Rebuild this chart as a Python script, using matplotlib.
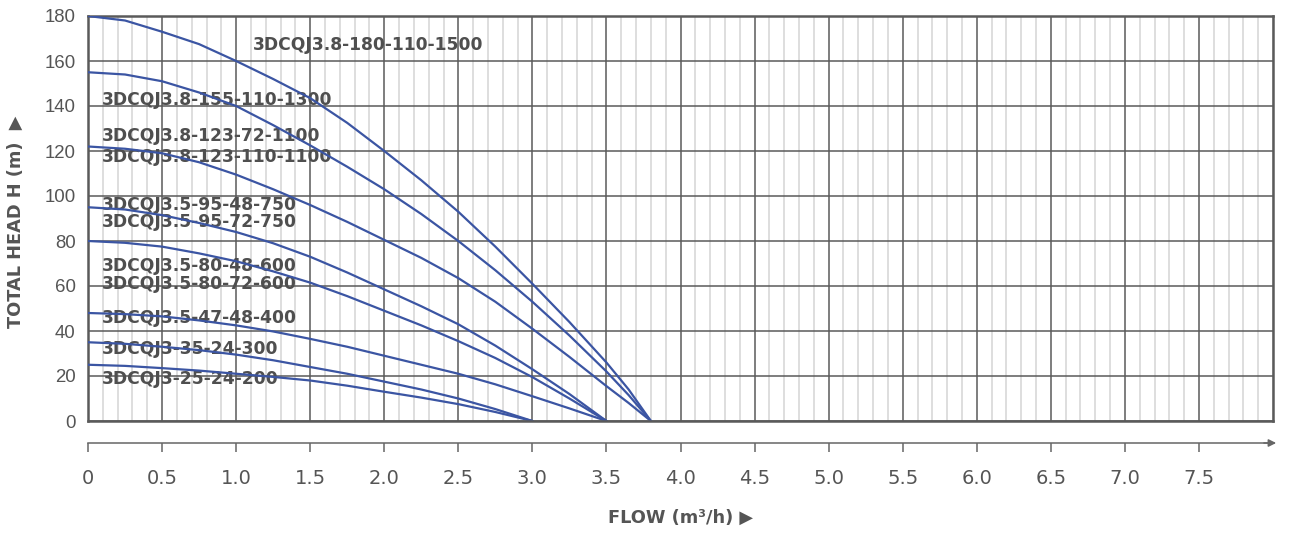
import matplotlib
matplotlib.use("Agg")
import matplotlib.pyplot as plt
import matplotlib.transforms as mtransforms
from matplotlib.ticker import MultipleLocator

# pump curves: flow (m3/h) -> total head (m)
q_38 = [0, 0.25, 0.5, 0.75, 1.0, 1.25, 1.5, 1.75, 2.0, 2.25, 2.5, 2.75, 3.0, 3.25, 3.5, 3.65, 3.8]
q_35 = [0, 0.25, 0.5, 0.75, 1.0, 1.25, 1.5, 1.75, 2.0, 2.25, 2.5, 2.75, 3.0, 3.25, 3.5]
q_30 = [0, 0.25, 0.5, 0.75, 1.0, 1.25, 1.5, 1.75, 2.0, 2.25, 2.5, 2.75, 3.0]

h_180 = [180, 178, 173, 167.5, 160, 152, 143.5, 132.5, 120, 107, 93, 77.5, 61, 44, 26, 14, 0]
h_155 = [155, 154, 151, 146, 140, 131.5, 122.5, 113, 103, 92, 80, 67, 53, 38, 22, 11.5, 0]
h_123 = [122, 121, 119, 115, 109.5, 103, 96, 88.5, 80.5, 72.5, 63.5, 53, 41, 28.5, 15.5, 8, 0]
h_95 = [95, 94, 91.5, 88, 84, 79, 73, 66, 58.5, 51, 43, 33.5, 23, 12, 0]
h_80 = [80, 79.2, 77.5, 74.5, 71, 66.5, 61.5, 55.5, 49, 42.5, 35.5, 28, 19.5, 10, 0]
h_47 = [48, 47.5, 46.5, 44.7, 42.5, 39.8, 36.5, 33, 29, 25, 21, 16.3, 11, 5.6, 0]
h_35 = [35, 34.3, 33, 31.5, 29.5, 27, 24, 21, 17.5, 14, 10, 5.3, 0]
h_25 = [25, 24.5, 23.5, 22.4, 21, 19.6, 18, 15.7, 13, 10.4, 7.5, 4, 0]

curves = [(q_38, h_180), (q_38, h_155), (q_38, h_123),
          (q_35, h_95), (q_35, h_80), (q_35, h_47),
          (q_30, h_35), (q_30, h_25)]

labels = ["3DCQJ3.8-180-110-1500", "3DCQJ3.8-155-110-1300",
          "3DCQJ3.8-123-72-1100", "3DCQJ3.8-123-110-1100",
          "3DCQJ3.5-95-48-750", "3DCQJ3.5-95-72-750",
          "3DCQJ3.5-80-48-600", "3DCQJ3.5-80-72-600",
          "3DCQJ3.5-47-48-400", "3DCQJ3-35-24-300", "3DCQJ3-25-24-200"]
label_x = [1.115, 0.095, 0.095, 0.095, 0.095, 0.095, 0.095, 0.095, 0.095, 0.095, 0.095]
label_y = [167, 142.7, 126.7, 117.3, 96, 88.4, 68.9, 60.9, 45.8, 32, 18.7]

x_ticks = [0, 0.5, 1.0, 1.5, 2.0, 2.5, 3.0, 3.5, 4.0, 4.5, 5.0, 5.5, 6.0, 6.5, 7.0, 7.5]
x_ticklabels = ["0", "0.5", "1.0", "1.5", "2.0", "2.5", "3.0", "3.5", "4.0",
                "4.5", "5.0", "5.5", "6.0", "6.5", "7.0", "7.5"]
y_ticks = list(range(0, 181, 20))

W, H = 1291, 536
fig = plt.figure(figsize=(W / 100, H / 100), dpi=100)
ax = fig.add_axes([88 / W, (H - 421) / H, 1185 / W, 405 / H])

dark = "#5a5a5a"
txt = "#555555"
blue = "#3b55a3"

ax.set_xlim(0, 8)
ax.set_ylim(0, 180)

# grid
ax.xaxis.set_minor_locator(MultipleLocator(0.1))
ax.grid(which="minor", axis="x", color="#d4d4d4", lw=1.1, zorder=0)
ax.grid(which="major", axis="x", color=dark, lw=1.1, zorder=1)
ax.grid(which="major", axis="y", color=dark, lw=1.1, zorder=1)
ax.set_axisbelow(True)

for q, h in curves:
    ax.plot(q, h, color=blue, lw=1.6, zorder=3, solid_joinstyle="round")

for t, x, y in zip(labels, label_x, label_y):
    ax.text(x, y, t, fontsize=12.3, fontweight="bold", color="#4f4f4f",
            family="DejaVu Sans", ha="left", va="center", zorder=2)

# frame
for s in ["top", "left", "right"]:
    ax.spines[s].set_color(dark)
    ax.spines[s].set_linewidth(1.8)
ax.axhline(0, color=dark, lw=1.8, clip_on=False, zorder=4)

# detached x axis below the plot
ax.spines["bottom"].set_position(("outward", 16))
ax.spines["bottom"].set_color("#666666")
ax.spines["bottom"].set_linewidth(1.1)
ax.set_xticks(x_ticks)
ax.set_xticklabels(x_ticklabels, fontfamily="Liberation Sans Narrow", fontsize=14, color=txt)
ax.tick_params(axis="x", which="major", direction="out", length=6.5, width=1.1,
               color="#666666", pad=12)
ax.tick_params(axis="x", which="minor", length=0)

trans = mtransforms.offset_copy(ax.transAxes, fig=fig, y=-22, units="dots")
ax.annotate("", xy=(1.005, 0), xytext=(0.99, 0), xycoords=trans, textcoords=trans,
            arrowprops=dict(arrowstyle="-|>", color="#666666", lw=1.1, mutation_scale=11),
            annotation_clip=False)

ax.set_yticks(y_ticks)
ax.set_yticklabels([str(v) for v in y_ticks], fontfamily="Liberation Sans",
                   fontsize=13.4, color=txt)
ax.tick_params(axis="y", length=0, pad=9)

fig.text(16 / W, 1 - 222 / H, "TOTAL HEAD H (m)  \u25b6", rotation=90, ha="center", va="center",
         fontsize=12.8, fontweight="bold", color=txt, family="DejaVu Sans")
fig.text(680 / W, 1 - 518 / H, "FLOW (m\u00b3/h) \u25b6", ha="center", va="center",
         fontsize=12.8, fontweight="bold", color=txt, family="DejaVu Sans")

fig.savefig("out.png", dpi=100)
